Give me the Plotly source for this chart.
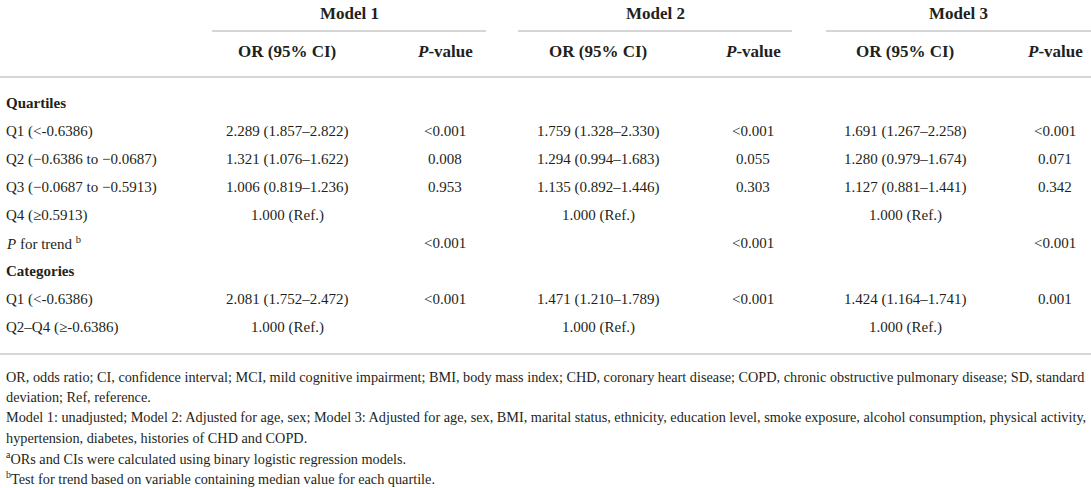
import plotly.graph_objects as go

# ---------------- data ----------------
models = ["Model 1", "Model 2", "Model 3"]
sub_headers = ["OR (95% CI)", "<i>P</i>-value"]

row_labels = [
    "<b>Quartiles</b>",
    "Q1 (&lt;-0.6386)",
    "Q2 (−0.6386 to −0.0687)",
    "Q3 (−0.0687 to −0.5913)",
    "Q4 (≥0.5913)",
    "<i>P</i> for trend <sup>b</sup>",
    "<b>Categories</b>",
    "Q1 (&lt;-0.6386)",
    "Q2–Q4 (≥-0.6386)",
]

# values per data row (None = section header row)
m1_or = [None, "2.289 (1.857–2.822)", "1.321 (1.076–1.622)", "1.006 (0.819–1.236)", "1.000 (Ref.)", "", None, "2.081 (1.752–2.472)", "1.000 (Ref.)"]
m1_p  = [None, "&lt;0.001", "0.008", "0.953", "", "&lt;0.001", None, "&lt;0.001", ""]
m2_or = [None, "1.759 (1.328–2.330)", "1.294 (0.994–1.683)", "1.135 (0.892–1.446)", "1.000 (Ref.)", "", None, "1.471 (1.210–1.789)", "1.000 (Ref.)"]
m2_p  = [None, "&lt;0.001", "0.055", "0.303", "", "&lt;0.001", None, "&lt;0.001", ""]
m3_or = [None, "1.691 (1.267–2.258)", "1.280 (0.979–1.674)", "1.127 (0.881–1.441)", "1.000 (Ref.)", "", None, "1.424 (1.164–1.741)", "1.000 (Ref.)"]
m3_p  = [None, "&lt;0.001", "0.071", "0.342", "", "&lt;0.001", None, "0.001", ""]

footnotes = [
    "OR, odds ratio; CI, confidence interval; MCI, mild cognitive impairment; BMI, body mass index; CHD, coronary heart disease; COPD, chronic obstructive pulmonary disease; SD, standard",
    "deviation; Ref, reference.",
    "Model 1: unadjusted; Model 2: Adjusted for age, sex; Model 3: Adjusted for age, sex, BMI, marital status, ethnicity, education level, smoke exposure, alcohol consumption, physical activity,",
    "hypertension, diabetes, histories of CHD and COPD.",
    "<sup>a</sup>ORs and CIs were calculated using binary logistic regression models.",
    "<sup>b</sup>Test for trend based on variable containing median value for each quartile.",
]

# ---------------- layout constants ----------------
W, H = 1091, 488
FONT = "Liberation Serif, Times New Roman, serif"
TXT = "#231f20"
LINE = "#c9c9c9"

or_x = [287, 598, 905]
p_x = [445, 753, 1055]
model_span = [(212, 486), (518, 792), (826, 1091)]
title_y = 13
sub_y = 51
row_y0, row_dy = 103, 28.0
foot_y0, foot_dy = 377, 20.2

cols = [(m1_or, m1_p), (m2_or, m2_p), (m3_or, m3_p)]

ann = []
def add(text, x, y, size=15, anchor="center", color=TXT):
    ann.append(dict(text=text, x=x, y=y, xref="x", yref="y", showarrow=False,
                    xanchor=anchor, yanchor="middle",
                    font=dict(family=FONT, size=size, color=color)))

for i, m in enumerate(models):
    add("<b>" + m + "</b>", sum(model_span[i]) / 2, title_y, size=17)
    add("<b>" + sub_headers[0] + "</b>", or_x[i], sub_y, size=17)
    add("<b>" + sub_headers[1] + "</b>", p_x[i], sub_y, size=17)

for r, lab in enumerate(row_labels):
    y = row_y0 + r * row_dy
    add(lab, 4, y, anchor="left")
    for i, (orv, pv) in enumerate(cols):
        if orv[r]:
            add(orv[r], or_x[i], y)
        if pv[r]:
            add(pv[r], p_x[i], y)

for k, f in enumerate(footnotes):
    add(f, 4, foot_y0 + k * foot_dy, size=14.25, anchor="left")

shapes = []
for (a, b) in model_span:
    shapes.append(dict(type="line", xref="x", yref="y", x0=a, x1=b, y0=31, y1=31,
                       line=dict(color=LINE, width=1.5)))
for yy in (77, 354):
    shapes.append(dict(type="line", xref="x", yref="y", x0=0, x1=W, y0=yy, y1=yy,
                       line=dict(color=LINE, width=1.5)))

fig = go.Figure()
fig.update_layout(
    width=W, height=H,
    margin=dict(l=0, r=0, t=0, b=0),
    paper_bgcolor="white", plot_bgcolor="white",
    xaxis=dict(range=[0, W], visible=False, fixedrange=True),
    yaxis=dict(range=[H, 0], visible=False, fixedrange=True),
    annotations=ann, shapes=shapes, showlegend=False,
)
fig.write_html("out.html", config={"displayModeBar": False},
               post_script="document.body.style.margin='0';document.body.style.overflow='hidden';")
